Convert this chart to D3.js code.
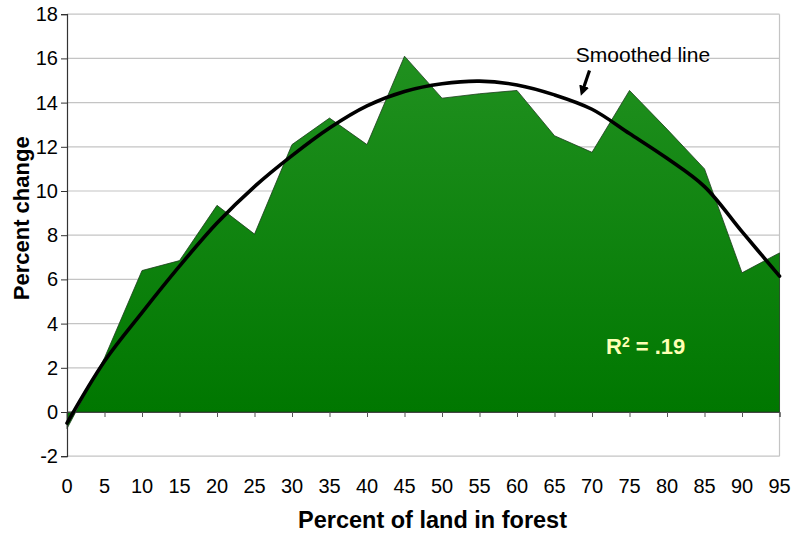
<!DOCTYPE html>
<html>
<head>
<meta charset="utf-8">
<script src="https://cdn.jsdelivr.net/npm/d3@7"></script>
<style>
  html, body { margin: 0; padding: 0; background: #fff; }
  svg { display: block; font-family: "Liberation Sans", Arial, sans-serif; }
</style>
</head>
<body>
<svg id="chart" width="796" height="535"></svg>
<script>
// Percent of land in forest (category positions along the x axis)
const forestShare = [0, 5, 10, 15, 20, 25, 30, 35, 40, 45, 50, 55, 60, 65, 70, 75, 80, 85, 90, 95];
// Observed percent change for each forest share
const percentChange = [-0.75, 2.45, 6.4, 6.85, 9.35, 8.05, 12.1, 13.3, 12.1, 16.1, 14.2, 14.4, 14.55, 12.5, 11.75, 14.55, 12.8, 11.0, 6.3, 7.2];
// Smoothed fit through the observed values
const smoothed = [-0.5, 2.3, 4.5, 6.6, 8.55, 10.2, 11.6, 12.85, 13.85, 14.5, 14.85, 14.97, 14.8, 14.35, 13.7, 12.6, 11.48, 10.2, 8.16, 6.15];
const yTicks = [-2, 0, 2, 4, 6, 8, 10, 12, 14, 16, 18];
const xTitle = "Percent of land in forest";
const yTitle = "Percent change";
const fitLabel = "Smoothed line";

const svg = d3.select("#chart");
const plotLeft = 67, plotRight = 779.5, plotTop = 14.2, plotBottom = 456.2;

const x = d3.scalePoint().domain(forestShare).range([plotLeft, plotRight]);
const y = d3.scaleLinear().domain([-2, 18]).range([plotBottom, plotTop]);

// Gradient fill for the area
const defs = svg.append("defs");
const grad = defs.append("linearGradient")
  .attr("id", "areaFill")
  .attr("gradientUnits", "userSpaceOnUse")
  .attr("x1", 0).attr("x2", 0)
  .attr("y1", y(16)).attr("y2", y(0));
grad.append("stop").attr("offset", "0%").attr("stop-color", "#20901f");
grad.append("stop").attr("offset", "100%").attr("stop-color", "#007700");

// Horizontal gridlines
svg.append("g").selectAll("line").data(yTicks).join("line")
  .attr("x1", plotLeft).attr("x2", plotRight)
  .attr("y1", d => y(d)).attr("y2", d => y(d))
  .attr("stroke", "#c4c4c4").attr("stroke-width", 1.2);

// Right border of the plot area
svg.append("line")
  .attr("x1", plotRight).attr("x2", plotRight)
  .attr("y1", plotTop).attr("y2", plotBottom)
  .attr("stroke", "#c4c4c4").attr("stroke-width", 1.2);

// Area of observed change
const area = d3.area()
  .x((d, i) => x(forestShare[i]))
  .y0(y(0))
  .y1(d => y(d));
svg.append("path")
  .datum(percentChange)
  .attr("d", area)
  .attr("fill", "url(#areaFill)")
  .attr("stroke", "#1d3d1d")
  .attr("stroke-width", 0.8)
  .attr("stroke-linejoin", "miter");

// Zero axis with tick marks
const xAxis = d3.axisBottom(x).tickSize(5).tickFormat("");
const gx = svg.append("g").attr("transform", `translate(0,${y(0)})`).call(xAxis);
gx.select(".domain").attr("stroke", "#444").attr("stroke-width", 1);
gx.selectAll(".tick line").attr("stroke", "#555");

// X tick labels placed below the plot
svg.append("g").selectAll("text").data(forestShare).join("text")
  .attr("x", d => x(d))
  .attr("y", 493)
  .attr("text-anchor", "middle")
  .attr("font-size", 20)
  .attr("fill", "#000")
  .text(d => d);

// Y axis
const yAxis = d3.axisLeft(y).tickValues(yTicks).tickSize(6).tickPadding(3)
  .tickFormat(d => String(d));
const gy = svg.append("g").attr("transform", `translate(${plotLeft},0)`).call(yAxis);
gy.select(".domain").attr("stroke", "#333").attr("stroke-width", 1.2);
gy.selectAll(".tick line").attr("stroke", "#333");
gy.selectAll(".tick text").attr("font-size", 20).attr("fill", "#000")
  .attr("font-family", "'Liberation Sans', Arial, sans-serif");

// Smoothed fit line
const line = d3.line()
  .x((d, i) => x(forestShare[i]))
  .y(d => y(d))
  .curve(d3.curveCatmullRom.alpha(0.5));
svg.append("path")
  .datum(smoothed)
  .attr("d", line)
  .attr("fill", "none")
  .attr("stroke", "#000")
  .attr("stroke-width", 3.6)
  .attr("stroke-linecap", "round");

// Fit label with arrow
svg.append("text")
  .attr("x", 643).attr("y", 61.7)
  .attr("text-anchor", "middle")
  .attr("font-size", 21)
  .attr("fill", "#000")
  .text(fitLabel);

defs.append("marker")
  .attr("id", "arrowHead")
  .attr("viewBox", "0 0 10 10")
  .attr("refX", 5).attr("refY", 5)
  .attr("markerWidth", 3.2).attr("markerHeight", 3.2)
  .attr("markerUnits", "strokeWidth")
  .attr("orient", "auto")
  .append("path").attr("d", "M0,0 L10,5 L0,10 Z").attr("fill", "#000");

svg.append("line")
  .attr("x1", 589.5).attr("y1", 70.5)
  .attr("x2", 582.5).attr("y2", 91)
  .attr("stroke", "#000").attr("stroke-width", 3.2)
  .attr("marker-end", "url(#arrowHead)");

// R-squared label
const r2 = svg.append("text")
  .attr("x", 606).attr("y", 354)
  .attr("font-size", 22)
  .attr("font-weight", "bold")
  .attr("fill", "#ffffb4");
r2.append("tspan").text("R");
r2.append("tspan").attr("font-size", 14).attr("dy", -7).text("2");
r2.append("tspan").attr("dy", 7).text(" = .19");

// Axis titles
svg.append("text")
  .attr("x", 432.5).attr("y", 528)
  .attr("text-anchor", "middle")
  .attr("font-size", 23.5)
  .attr("font-weight", "bold")
  .attr("fill", "#000")
  .text(xTitle);

svg.append("text")
  .attr("transform", `translate(28.5,${218.3}) rotate(-90)`)
  .attr("text-anchor", "middle")
  .attr("font-size", 22)
  .attr("font-weight", "bold")
  .attr("fill", "#000")
  .text(yTitle);
</script>
</body>
</html>
